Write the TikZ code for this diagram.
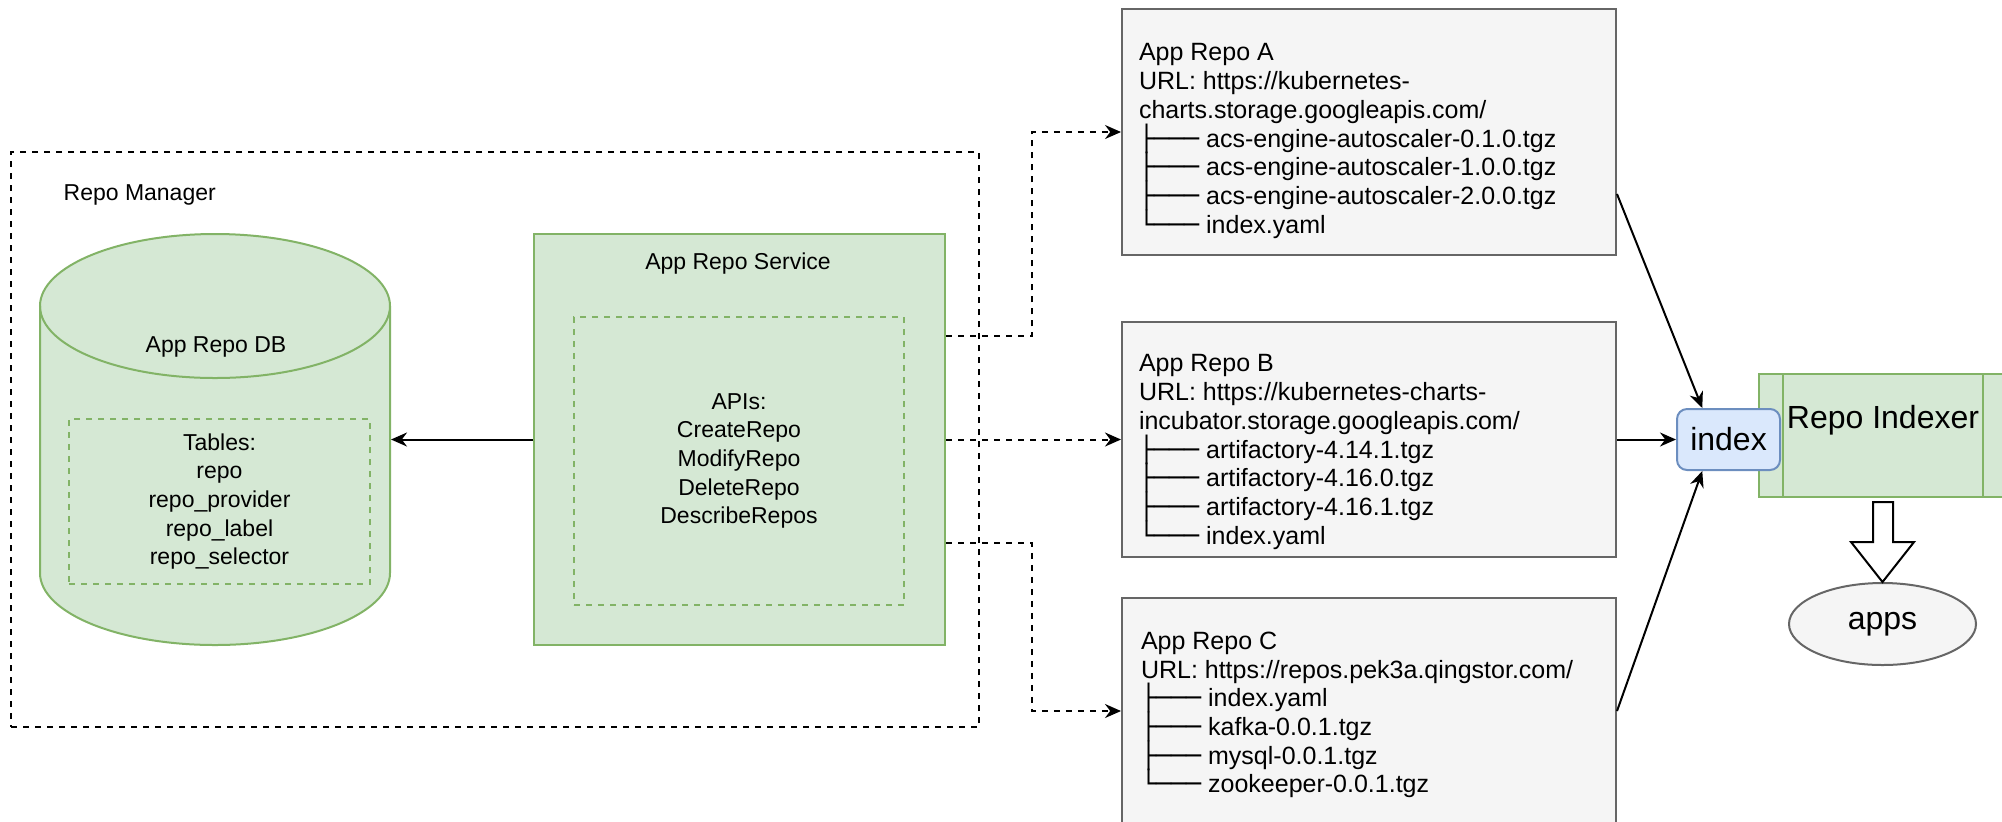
\documentclass[tikz,border=0pt]{standalone}
\usepackage{fontspec}
\setmainfont{Liberation Sans}
\newfontfamily\treefont{DejaVu Sans}
\usetikzlibrary{arrows.meta,calc,shapes.geometric}
\definecolor{gfill}{HTML}{D5E8D4}
\definecolor{gline}{HTML}{82B366}
\definecolor{rfill}{HTML}{F5F5F5}
\definecolor{rline}{HTML}{666666}
\definecolor{bfill}{HTML}{DAE8FC}
\definecolor{bline}{HTML}{6C8EBF}
\newcommand{\treetee}{{\treefont ├───}\ }
\newcommand{\treeend}{{\treefont └───}\ }
\newcommand{\repofont}{\fontsize{12.5}{14.35}\selectfont\lineskiplimit=-5pt\relax}
\begin{document}
\begin{tikzpicture}[x=0.5pt, y=-0.5pt, line width=1pt,
        font=\fontsize{11.5}{14.35}\selectfont,
        greenbox/.style={draw=gline, fill=gfill},
        innerbox/.style={draw=gline, dash pattern=on 3pt off 3pt, align=center},
        repobox/.style={draw=rline, fill=rfill, minimum width=247pt},
        repotext/.style={font=\repofont, align=left, inner sep=0pt, anchor=west},
        bigtext/.style={font=\fontsize{16}{19}\selectfont},
        conn/.style={-{Stealth[length=8pt,width=7pt]}},
        dashconn/.style={conn, dash pattern=on 3pt off 3pt}]
        \useasboundingbox (0,0) rectangle (2002,821);
        \clip (0,0) rectangle (2002,821);

        % repo manager
        \node (mgr) at (495,439.5) [draw, dash pattern=on 3pt off 3pt, minimum width=484pt, minimum height=287.5pt] {};
        \node (mgrlbl) at (56,195) [anchor=west] {Repo Manager};

        % app repo db (cylinder)
        \node (db) at (215,439.5) [minimum width=175pt, minimum height=205.5pt] {};
        \fill[gfill] (40,306) rectangle (390,573);
        \fill[gfill] (215,573) ellipse [x radius=175, y radius=72];
        \filldraw[fill=gfill, draw=gline] (215,306) ellipse [x radius=175, y radius=72];
        \draw[gline] (40,306) -- (40,573) arc[start angle=180, end angle=0, x radius=175, y radius=72] -- (390,306);
        \node (dblbl) at (216,347) {App Repo DB};
        \node (tables) at (219.5,501.5) [innerbox, minimum width=150.5pt, minimum height=82.5pt] {Tables:\\repo\\repo\_provider\\repo\_label\\repo\_selector};

        % app repo service
        \node (svc) at (739.5,439.5) [greenbox, minimum width=205.5pt, minimum height=205.5pt] {};
        \node (svclbl) at (738,264) {App Repo Service};
        \node (apis) at (739,461) [innerbox, minimum width=165pt, minimum height=144pt] {APIs:\\CreateRepo\\ModifyRepo\\DeleteRepo\\DescribeRepos};

        % app repos
        \node (repoA) at (1369,132) [repobox, minimum height=123pt] {};
        \node (repoAtxt) at (1138,141) [repotext] {App Repo A\\URL: https://kubernetes-\\charts.storage.googleapis.com/\\
            \treetee acs-engine-autoscaler-0.1.0.tgz\\\treetee acs-engine-autoscaler-1.0.0.tgz\\
            \treetee acs-engine-autoscaler-2.0.0.tgz\\\treeend index.yaml};
        \node (repoB) at (1369,439.5) [repobox, minimum height=117.5pt] {};
        \node (repoBtxt) at (1138,452) [repotext] {App Repo B\\URL: https://kubernetes-charts-\\incubator.storage.googleapis.com/\\
            \treetee artifactory-4.14.1.tgz\\\treetee artifactory-4.16.0.tgz\\
            \treetee artifactory-4.16.1.tgz\\\treeend index.yaml};
        \node (repoC) at (1369,711) [repobox, minimum height=113pt] {};
        \node (repoCtxt) at (1140,715) [repotext] {App Repo C\\URL: https://repos.pek3a.qingstor.com/\\
            \treetee index.yaml\\\treetee kafka-0.0.1.tgz\\
            \treetee mysql-0.0.1.tgz\\\treeend zookeeper-0.0.1.tgz};

        % repo indexer
        \node (indexer) at (1883,435.5) [greenbox, minimum width=124pt, minimum height=61.5pt] {};
        \draw[gline] (indexer.north west) ++(25,0) -- ++(0,123);
        \draw[gline] (indexer.north east) ++(-25,0) -- ++(0,123);
        \node (indexerlbl) at (1883,420) [bigtext] {Repo Indexer};
        \node (index) at (1728.5,439.5) [draw=bline, fill=bfill, rounded corners=5pt, minimum width=51.5pt, minimum height=30.5pt, bigtext] {index};
        \node (apps) at (1882.5,624) [ellipse, draw=rline, fill=rfill, minimum width=93.5pt, minimum height=41pt, bigtext] {apps};
        \draw[fill=white] (1873,502) -- (1893,502) -- (1893,542) -- (1914,542) -- (apps.north) -- (1851,542) -- (1873,542) -- cycle;

        % svc -> db
        \draw[conn] (svc) -- (db);
        % svc -> repos
        \coordinate (bend) at (1032,0);
        \coordinate (svcA) at ($(svc.north east)!0.25!(svc.south east)$);
        \coordinate (svcC) at ($(svc.north east)!0.75!(svc.south east)$);
        \draw[dashconn] (svcA) -- (svcA -| bend) |- (repoA);
        \draw[dashconn] (svc.east) -- (repoB);
        \draw[dashconn] (svcC) -- (svcC -| bend) |- (repoC);
        % repos -> index
        \draw[conn] ($(repoA.north east)!0.75!(repoA.south east)$) -- ($(index.north west)!0.25!(index.north east)$);
        \draw[conn] (repoB) -- (index);
        \draw[conn] (repoC.east) -- ($(index.south west)!0.25!(index.south east)$);
    \end{tikzpicture}
\end{document}
